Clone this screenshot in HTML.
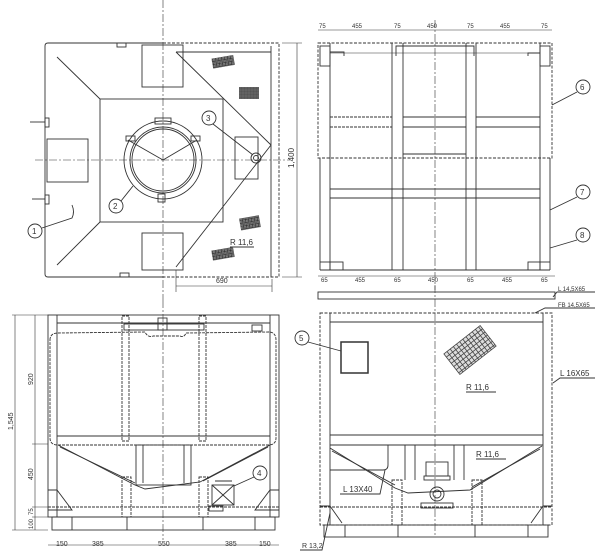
<!DOCTYPE html>
<html><head><meta charset="utf-8"><style>
body{margin:0;background:#fff}
svg{display:block}
text{font-family:"Liberation Sans",sans-serif;fill:#333}
</style></head><body>
<svg width="600" height="552" viewBox="0 0 600 552" xmlns="http://www.w3.org/2000/svg" stroke="#333" stroke-width="0.9" fill="none">
<defs>
<pattern id="dots" width="3" height="3" patternUnits="userSpaceOnUse"><rect width="3" height="3" fill="#fff"/><circle cx="1.5" cy="1.5" r="1" fill="#555" stroke="none"/></pattern>
</defs>
<!-- ===== TOP LEFT: plan view ===== -->
<g>
<line x1="163" y1="0" x2="163" y2="300" stroke-dasharray="8,2,2,2" stroke-width="0.6"/>
<line x1="35" y1="160" x2="290" y2="160" stroke-dasharray="8,2,2,2" stroke-width="0.6"/>
<path d="M163 43 H48 Q45 43 45 46 V274 Q45 277 48 277 H163"/>
<path d="M163 43 H279 V277 H163" stroke-dasharray="3,1.5"/>
<line x1="271" y1="46" x2="271" y2="277"/>
<rect x="100" y="99" width="123" height="123"/>
<line x1="57" y1="57" x2="100" y2="99"/><line x1="57" y1="265" x2="100" y2="222"/>
<line x1="176" y1="52" x2="271" y2="145"/><line x1="271" y1="145" x2="176" y2="267"/>
<line x1="176" y1="52" x2="271" y2="52"/>
<rect x="142" y="45" width="41" height="42"/><rect x="142" y="233" width="41" height="37"/>
<rect x="47" y="139" width="41" height="43"/><rect x="235" y="137" width="23" height="42"/>
<circle cx="163" cy="160" r="39"/><circle cx="163" cy="160" r="33"/><circle cx="163" cy="160" r="31"/>
<line x1="163" y1="160" x2="128" y2="140"/><line x1="163" y1="160" x2="197" y2="140"/>
<rect x="155" y="118" width="16" height="6"/><rect x="158" y="194" width="7" height="8"/>
<rect x="126" y="136" width="9" height="5"/><rect x="191" y="136" width="9" height="5"/>
<circle cx="256" cy="158" r="5"/><circle cx="256" cy="158" r="2.5"/>
<rect x="45" y="118" width="4" height="9"/><rect x="45" y="195" width="4" height="9"/>
<line x1="30" y1="122" x2="45" y2="122"/><line x1="32" y1="199" x2="45" y2="199"/>
<rect x="117" y="43" width="9" height="4"/><rect x="120" y="273" width="9" height="4"/>
<g fill="url(#dots)" stroke="none">
<rect x="212" y="57" width="22" height="10" transform="rotate(-10 222 61)"/>
<rect x="239" y="87" width="20" height="12"/>
<rect x="240" y="217" width="20" height="12" transform="rotate(-10 249 223)"/>
<rect x="212" y="249" width="22" height="10" transform="rotate(-10 222 254)"/>
</g>
<text x="230" y="245" font-size="8" stroke="none">R 11,6</text>
<line x1="230" y1="247" x2="254" y2="247"/>
<line x1="282" y1="43" x2="302" y2="43" stroke-width="0.6"/><line x1="282" y1="277" x2="302" y2="277" stroke-width="0.6"/>
<line x1="297" y1="43" x2="297" y2="277" stroke-width="0.6"/>
<text x="0" y="0" font-size="8" stroke="none" transform="translate(294 168) rotate(-90)">1,400</text>
<line x1="176" y1="270" x2="176" y2="292" stroke-width="0.6"/><line x1="272" y1="279" x2="272" y2="292" stroke-width="0.6"/>
<line x1="176" y1="286" x2="272" y2="286" stroke-width="0.6"/>
<text x="216" y="283" font-size="7" stroke="none">690</text>
<circle cx="35" cy="231" r="7"/><text x="32" y="234" font-size="8" stroke="none">1</text>
<path d="M42 228 L72 218 Q75 212 72 205"/>
<circle cx="116" cy="206" r="7"/><text x="113" y="209" font-size="8" stroke="none">2</text>
<line x1="121" y1="201" x2="133" y2="186"/>
<circle cx="209" cy="118" r="7"/><text x="206" y="121" font-size="8" stroke="none">3</text>
<line x1="213" y1="124" x2="253" y2="155"/>
</g>
<!-- ===== TOP RIGHT: side view ===== -->
<g>
<line x1="435" y1="20" x2="435" y2="290" stroke-dasharray="8,2,2,2" stroke-width="0.6"/>
<line x1="318" y1="30" x2="552" y2="30" stroke-width="0.6"/>
<text x="319" y="28" font-size="6" stroke="none">75</text><text x="352" y="28" font-size="6" stroke="none">455</text>
<text x="394" y="28" font-size="6" stroke="none">75</text><text x="427" y="28" font-size="6" stroke="none">450</text>
<text x="467" y="28" font-size="6" stroke="none">75</text><text x="500" y="28" font-size="6" stroke="none">455</text>
<text x="541" y="28" font-size="6" stroke="none">75</text>
<rect x="318" y="43" width="234" height="115" stroke-dasharray="3,1.5"/>
<rect x="320" y="46" width="10" height="20"/><rect x="540" y="46" width="10" height="20"/>
<path d="M330 53 V52 H344 V56"/><path d="M540 53 H528 V56"/><path d="M396 56 V46 H474 V56"/>
<line x1="330" y1="53" x2="540" y2="53" stroke-width="0.6"/>
<line x1="330" y1="43" x2="330" y2="270"/><line x1="540" y1="43" x2="540" y2="270"/>
<line x1="392" y1="43" x2="392" y2="270"/><line x1="403" y1="43" x2="403" y2="270"/>
<line x1="466" y1="43" x2="466" y2="270"/><line x1="476" y1="43" x2="476" y2="270"/>
<line x1="320" y1="158" x2="320" y2="270"/><line x1="550" y1="158" x2="550" y2="270"/>
<line x1="330" y1="117" x2="392" y2="117" stroke-dasharray="3,1"/><line x1="330" y1="127" x2="392" y2="127" stroke-dasharray="3,1"/>
<line x1="403" y1="117" x2="466" y2="117"/><line x1="403" y1="127" x2="466" y2="127"/>
<line x1="476" y1="117" x2="540" y2="117"/><line x1="476" y1="127" x2="540" y2="127"/>
<line x1="403" y1="154" x2="466" y2="154"/>
<line x1="330" y1="189" x2="540" y2="189"/><line x1="330" y1="198" x2="540" y2="198"/>
<line x1="320" y1="262" x2="330" y2="262"/><line x1="540" y1="262" x2="550" y2="262"/>
<line x1="320" y1="270" x2="550" y2="270"/>
<rect x="330" y="262" width="13" height="8"/><rect x="528" y="262" width="12" height="8"/>
<line x1="318" y1="276" x2="555" y2="276" stroke-width="0.6"/>
<text x="321" y="282" font-size="6" stroke="none">65</text><text x="355" y="282" font-size="6" stroke="none">455</text>
<text x="394" y="282" font-size="6" stroke="none">65</text><text x="428" y="282" font-size="6" stroke="none">450</text>
<text x="467" y="282" font-size="6" stroke="none">65</text><text x="502" y="282" font-size="6" stroke="none">455</text>
<text x="541" y="282" font-size="6" stroke="none">65</text>
<circle cx="583" cy="87" r="7"/><text x="580" y="90" font-size="8" stroke="none">6</text>
<line x1="577" y1="92" x2="552" y2="105"/>
<circle cx="583" cy="192" r="7"/><text x="580" y="195" font-size="8" stroke="none">7</text>
<line x1="577" y1="197" x2="550" y2="210"/>
<circle cx="583" cy="235" r="7"/><text x="580" y="238" font-size="8" stroke="none">8</text>
<line x1="577" y1="240" x2="550" y2="248"/>
</g>
<!-- ===== BOTTOM LEFT: front view ===== -->
<g>
<line x1="163" y1="300" x2="163" y2="540" stroke-dasharray="8,2,2,2" stroke-width="0.6"/>
<rect x="48" y="315" width="231" height="202"/>
<line x1="57" y1="315" x2="57" y2="517"/><line x1="270" y1="315" x2="270" y2="517"/>
<path d="M50 340 Q50 333 58 333 L145 332 Q148 338 153 336 L180 336 Q184 338 186 333 L270 332 Q276 333 276 340 V438 Q276 445 268 445 H58 Q50 445 50 438 Z" stroke-dasharray="3,1"/>
<line x1="57" y1="323" x2="270" y2="323"/><line x1="57" y1="436" x2="270" y2="436"/>
<rect x="122" y="316" width="7" height="125" stroke-dasharray="3,1"/><rect x="199" y="316" width="7" height="125" stroke-dasharray="3,1"/>
<rect x="124" y="324" width="80" height="6"/><rect x="158" y="318" width="9" height="12"/>
<rect x="252" y="325" width="10" height="6"/>
<path d="M58 445 L135 485 L145 489 L200 482 L270 445"/>
<path d="M60 447 L135 483"/><path d="M203 481 L268 447"/>
<rect x="136" y="445" width="55" height="40"/>
<line x1="143" y1="445" x2="143" y2="483"/><line x1="184" y1="445" x2="184" y2="483"/>
<rect x="122" y="477" width="9" height="40" stroke-dasharray="3,1"/><rect x="199" y="477" width="9" height="40" stroke-dasharray="3,1"/>
<rect x="212" y="485" width="22" height="20"/><line x1="212" y1="485" x2="234" y2="505"/><line x1="234" y1="485" x2="212" y2="505"/>
<line x1="215" y1="481" x2="232" y2="481"/><rect x="209" y="506" width="14" height="5"/>
<path d="M48 490 H57 L72 510 H48" /><path d="M279 490 H270 L255 510 H279"/>
<line x1="48" y1="507" x2="279" y2="507" stroke-dasharray="3,1"/>
<rect x="52" y="517" width="223" height="13"/>
<line x1="72" y1="517" x2="72" y2="530"/><line x1="127" y1="517" x2="127" y2="530"/><line x1="203" y1="517" x2="203" y2="530"/><line x1="255" y1="517" x2="255" y2="530"/>
<line x1="15" y1="315" x2="15" y2="530" stroke-width="0.6"/><line x1="35" y1="315" x2="35" y2="530" stroke-width="0.6"/>
<line x1="12" y1="315" x2="48" y2="315" stroke-width="0.5"/><line x1="12" y1="530" x2="48" y2="530" stroke-width="0.5"/>
<line x1="32" y1="444" x2="48" y2="444" stroke-width="0.5"/><line x1="32" y1="507" x2="48" y2="507" stroke-width="0.5"/>
<line x1="32" y1="517" x2="48" y2="517" stroke-width="0.5"/>
<text font-size="7" stroke="none" transform="translate(13 430) rotate(-90)">1,545</text>
<text font-size="7" stroke="none" transform="translate(33 385) rotate(-90)">920</text>
<text font-size="7" stroke="none" transform="translate(33 480) rotate(-90)">450</text>
<text font-size="6" stroke="none" transform="translate(33 515) rotate(-90)">75</text>
<text font-size="6" stroke="none" transform="translate(33 529) rotate(-90)">100</text>
<line x1="48" y1="545" x2="279" y2="545" stroke-width="0.6"/>
<text x="56" y="546" font-size="7" stroke="none">150</text><text x="92" y="546" font-size="7" stroke="none">385</text>
<text x="158" y="546" font-size="7" stroke="none">550</text><text x="225" y="546" font-size="7" stroke="none">385</text>
<text x="259" y="546" font-size="7" stroke="none">150</text>
<circle cx="260" cy="473" r="7"/><text x="257" y="476" font-size="8" stroke="none">4</text>
<line x1="254" y1="477" x2="234" y2="486"/>
</g>
<!-- ===== BOTTOM RIGHT: side view ===== -->
<g>
<line x1="435" y1="285" x2="435" y2="535" stroke-dasharray="8,2,2,2" stroke-width="0.6"/>
<rect x="318" y="292" width="237" height="7"/>
<rect x="320" y="313" width="232" height="212" stroke-dasharray="3,1.5"/>
<line x1="330" y1="313" x2="330" y2="525"/><line x1="543" y1="313" x2="543" y2="525"/>
<line x1="330" y1="322" x2="543" y2="322"/>
<line x1="330" y1="435" x2="543" y2="435"/><line x1="330" y1="445" x2="543" y2="445"/>
<rect x="341" y="342" width="27" height="31" stroke-width="1.5"/>
<g transform="rotate(-38 470 350)" stroke="#444" stroke-width="0.8">
<rect x="447" y="337" width="46" height="26" fill="#ddd"/>
<path d="M447 341H493M447 345H493M447 349H493M447 353H493M447 357H493M447 361H493M451 337V363M455 337V363M459 337V363M463 337V363M467 337V363M471 337V363M475 337V363M479 337V363M483 337V363M487 337V363M491 337V363"/>
</g>
<text x="466" y="390" font-size="8" stroke="none">R 11,6</text><line x1="466" y1="392" x2="496" y2="392"/>
<text x="476" y="457" font-size="8" stroke="none">R 11,6</text><line x1="476" y1="459" x2="506" y2="459"/>
<path d="M330 448 L395 488 L408 493 L470 490 L542 446"/>
<path d="M332 451 L395 485"/><path d="M472 487 L540 449"/>
<path d="M388 445 V465 Q388 470 383 470 H330"/>
<line x1="405" y1="445" x2="405" y2="480"/><line x1="415" y1="445" x2="415" y2="480"/>
<line x1="454" y1="445" x2="454" y2="480"/><line x1="464" y1="445" x2="464" y2="480"/>
<rect x="426" y="462" width="22" height="14"/><rect x="424" y="476" width="26" height="4"/>
<circle cx="437" cy="494" r="7"/><circle cx="437" cy="494" r="4"/>
<rect x="421" y="503" width="32" height="5"/>
<rect x="392" y="480" width="10" height="45" stroke-dasharray="3,1"/><rect x="472" y="480" width="10" height="45" stroke-dasharray="3,1"/>
<path d="M320 506 H330 L342 523 M552 506 H543 L531 523"/>
<line x1="320" y1="507" x2="552" y2="507" stroke-dasharray="3,1"/>
<rect x="324" y="525" width="224" height="12"/>
<line x1="345" y1="525" x2="345" y2="537"/><line x1="398" y1="525" x2="398" y2="537"/>
<line x1="475" y1="525" x2="475" y2="537"/><line x1="528" y1="525" x2="528" y2="537"/>
<circle cx="302" cy="338" r="7"/><text x="299" y="341" font-size="8" stroke="none">5</text>
<line x1="308" y1="342" x2="341" y2="351"/>
<text x="343" y="492" font-size="8" stroke="none">L 13X40</text>
<path d="M340 494 H380 L385 470"/>
<text x="302" y="548" font-size="7" stroke="none">R 13,2</text><path d="M300 550 H322 L330 513"/>
<text x="560" y="376" font-size="8" stroke="none">L 16X65</text><path d="M595 378 H560 L553 383"/>
<text x="558" y="291" font-size="6" stroke="none">L 14,5X65</text><path d="M595 292 H557 L553 297"/>
<text x="558" y="307" font-size="6" stroke="none">FB 14,5X65</text><path d="M595 308 H545 L535 313"/>
</g>
</svg>
</body></html>
